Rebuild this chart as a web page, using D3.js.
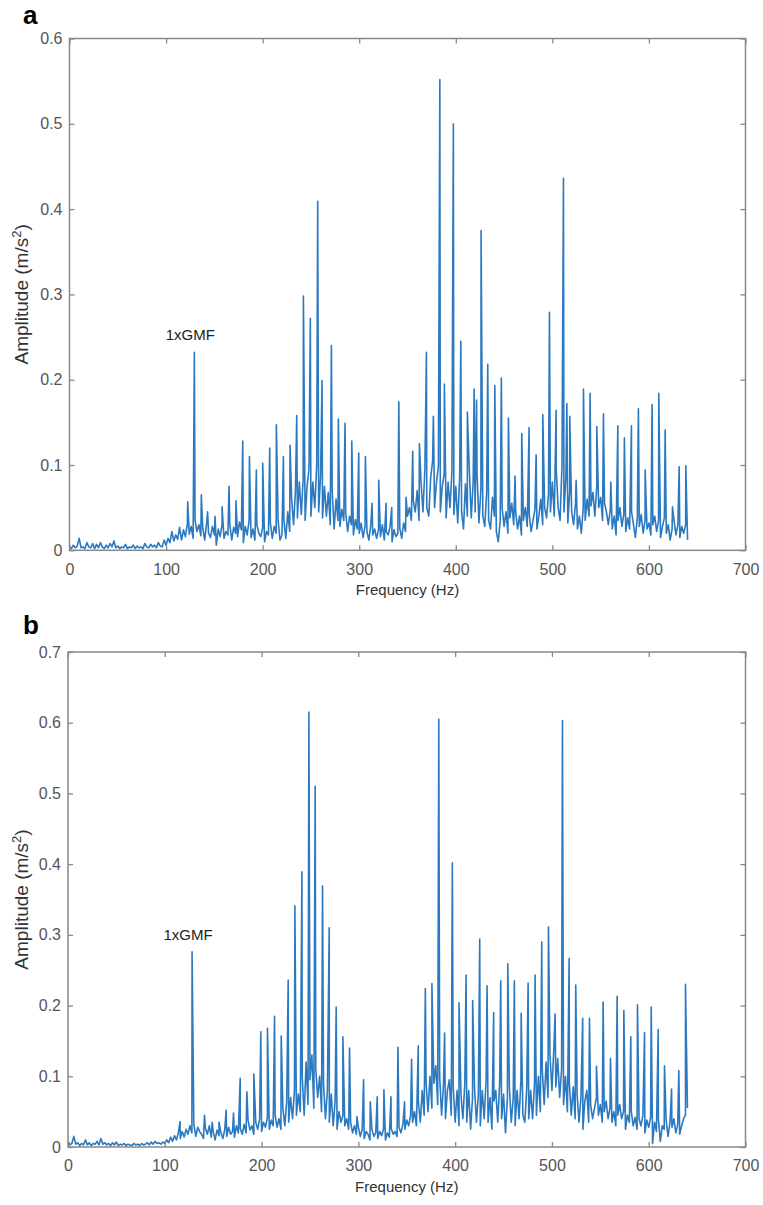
<!DOCTYPE html>
<html>
<head>
<meta charset="utf-8">
<script src="https://cdn.jsdelivr.net/npm/d3@7"></script>
<style>
  body { margin: 0; background: #fff; }
  svg { display: block; font-family: "Liberation Sans", Arial, Helvetica, sans-serif; }
</style>
</head>
<body>
<svg id="chart" width="763" height="1205"></svg>
<script>
// Gear mesh spectra, panels a and b

// Tick labels
const freqTicks = [0, 100, 200, 300, 400, 500, 600, 700];
const ampTicksA = [0, 0.1, 0.2, 0.3, 0.4, 0.5, 0.6];
const ampTicksB = [0, 0.1, 0.2, 0.3, 0.4, 0.5, 0.6, 0.7];

// Noise floor, one value every 2 Hz from 0 to 640 Hz
const floorStep = 2;
const floorA = [
  0.004, 0.002, 0.006, 0.003, 0.005, 0.014, 0.003, 0.004, 0.002, 0.009,
  0.004, 0.003, 0.008, 0.002, 0.007, 0.003, 0.009, 0.004, 0.002, 0.006,
  0.003, 0.008, 0.004, 0.011, 0.003, 0.005, 0.002, 0.004, 0.003, 0.007,
  0.002, 0.004, 0.003, 0.006, 0.002, 0.005, 0.003, 0.004, 0.002, 0.008,
  0.004, 0.003, 0.007, 0.004, 0.006, 0.003, 0.009, 0.005, 0.004, 0.012,
  0.006, 0.014, 0.009, 0.022, 0.011, 0.018, 0.013, 0.027, 0.012, 0.024,
  0.016, 0.030, 0.019, 0.028, 0.014, 0.035, 0.022, 0.030, 0.017, 0.026,
  0.012, 0.032, 0.020, 0.015, 0.028, 0.018, 0.006, 0.025, 0.016, 0.030,
  0.014, 0.022, 0.018, 0.030, 0.012, 0.027, 0.020, 0.016, 0.033, 0.024,
  0.009, 0.028, 0.018, 0.035, 0.015, 0.025, 0.012, 0.030, 0.020, 0.016,
  0.026, 0.010, 0.022, 0.018, 0.032, 0.014, 0.028, 0.020, 0.035, 0.012,
  0.018, 0.035, 0.014, 0.045, 0.022, 0.060, 0.030, 0.070, 0.038, 0.080,
  0.042, 0.085, 0.035, 0.075, 0.095, 0.040, 0.080, 0.050, 0.100, 0.045,
  0.088, 0.038, 0.075, 0.040, 0.068, 0.030, 0.070, 0.025, 0.060, 0.035,
  0.028, 0.048, 0.035, 0.044, 0.022, 0.040, 0.030, 0.018, 0.036, 0.025,
  0.020, 0.032, 0.015, 0.028, 0.022, 0.012, 0.030, 0.018, 0.025, 0.014,
  0.024, 0.016, 0.030, 0.012, 0.022, 0.018, 0.028, 0.010, 0.024, 0.016,
  0.020, 0.026, 0.014, 0.032, 0.022, 0.040, 0.050, 0.035, 0.058, 0.045,
  0.070, 0.035, 0.080, 0.045, 0.095, 0.050, 0.040, 0.085, 0.105, 0.050,
  0.080, 0.098, 0.045, 0.075, 0.090, 0.038, 0.080, 0.050, 0.092, 0.042,
  0.075, 0.032, 0.085, 0.045, 0.025, 0.078, 0.040, 0.095, 0.038, 0.080,
  0.045, 0.090, 0.032, 0.072, 0.040, 0.028, 0.068, 0.035, 0.025, 0.062,
  0.040, 0.022, 0.010, 0.035, 0.050, 0.028, 0.045, 0.020, 0.038, 0.055,
  0.030, 0.045, 0.025, 0.040, 0.018, 0.035, 0.050, 0.028, 0.042, 0.022,
  0.035, 0.048, 0.025, 0.040, 0.060, 0.030, 0.050, 0.038, 0.065, 0.045,
  0.080, 0.040, 0.095, 0.050, 0.035, 0.100, 0.045, 0.085, 0.032, 0.070,
  0.045, 0.030, 0.055, 0.025, 0.040, 0.020, 0.050, 0.035, 0.060, 0.040,
  0.052, 0.068, 0.040, 0.075, 0.050, 0.062, 0.035, 0.055, 0.045, 0.030,
  0.048, 0.025, 0.040, 0.018, 0.035, 0.050, 0.028, 0.042, 0.022, 0.038,
  0.025, 0.045, 0.030, 0.015, 0.038, 0.028, 0.042, 0.020, 0.035, 0.025,
  0.032, 0.018, 0.030, 0.040, 0.022, 0.035, 0.015, 0.028, 0.038, 0.020,
  0.030, 0.012, 0.025, 0.035, 0.018, 0.030, 0.015, 0.028, 0.020, 0.030,
  0.012
];

const floorB = [
  0.008, 0.003, 0.005, 0.015, 0.004, 0.006, 0.002, 0.005, 0.003, 0.010,
  0.003, 0.006, 0.002, 0.005, 0.004, 0.008, 0.003, 0.012, 0.004, 0.006,
  0.003, 0.005, 0.002, 0.006, 0.003, 0.007, 0.002, 0.004, 0.003, 0.005,
  0.002, 0.004, 0.003, 0.002, 0.005, 0.003, 0.004, 0.002, 0.005, 0.003,
  0.004, 0.006, 0.003, 0.007, 0.004, 0.008, 0.005, 0.006, 0.004, 0.007,
  0.005, 0.010, 0.006, 0.014, 0.008, 0.016, 0.010, 0.020, 0.012, 0.022,
  0.014, 0.025, 0.018, 0.030, 0.020, 0.032, 0.015, 0.028, 0.022, 0.018,
  0.012, 0.026, 0.018, 0.030, 0.014, 0.022, 0.010, 0.024, 0.016, 0.020,
  0.012, 0.025, 0.015, 0.028, 0.018, 0.022, 0.014, 0.030, 0.020, 0.026,
  0.018, 0.032, 0.020, 0.038, 0.024, 0.030, 0.018, 0.035, 0.025, 0.040,
  0.022, 0.035, 0.028, 0.042, 0.025, 0.038, 0.030, 0.045, 0.028, 0.040,
  0.025, 0.055, 0.030, 0.065, 0.035, 0.070, 0.040, 0.080, 0.045, 0.075,
  0.050, 0.100, 0.045, 0.120, 0.060, 0.095, 0.130, 0.055, 0.110, 0.070,
  0.100, 0.050, 0.090, 0.040, 0.080, 0.035, 0.075, 0.030, 0.065, 0.025,
  0.050, 0.035, 0.045, 0.030, 0.040, 0.025, 0.035, 0.020, 0.030, 0.018,
  0.028, 0.015, 0.025, 0.012, 0.022, 0.018, 0.010, 0.025, 0.015, 0.020,
  0.012, 0.022, 0.016, 0.025, 0.010, 0.020, 0.014, 0.026, 0.018, 0.022,
  0.015, 0.028, 0.020, 0.032, 0.025, 0.038, 0.030, 0.045, 0.035, 0.050,
  0.030, 0.065, 0.035, 0.080, 0.045, 0.090, 0.050, 0.100, 0.055, 0.090,
  0.115, 0.060, 0.100, 0.045, 0.090, 0.040, 0.080, 0.095, 0.045, 0.085,
  0.035, 0.080, 0.030, 0.075, 0.040, 0.090, 0.035, 0.080, 0.025, 0.070,
  0.085, 0.035, 0.075, 0.030, 0.080, 0.040, 0.095, 0.035, 0.070, 0.025,
  0.065, 0.080, 0.035, 0.090, 0.040, 0.075, 0.020, 0.070, 0.085, 0.035,
  0.070, 0.030, 0.080, 0.040, 0.095, 0.045, 0.035, 0.085, 0.040, 0.080,
  0.040, 0.090, 0.045, 0.100, 0.050, 0.110, 0.060, 0.120, 0.070, 0.130,
  0.080, 0.140, 0.085, 0.125, 0.070, 0.110, 0.060, 0.100, 0.050, 0.090,
  0.045, 0.085, 0.040, 0.075, 0.035, 0.070, 0.025, 0.065, 0.080, 0.035,
  0.060, 0.040, 0.055, 0.070, 0.045, 0.060, 0.035, 0.050, 0.065, 0.040,
  0.055, 0.035, 0.050, 0.030, 0.045, 0.060, 0.040, 0.050, 0.025, 0.045,
  0.035, 0.050, 0.030, 0.042, 0.025, 0.040, 0.030, 0.045, 0.020, 0.038,
  0.028, 0.042, 0.005, 0.035, 0.022, 0.040, 0.008, 0.030, 0.025, 0.038,
  0.015, 0.035, 0.028, 0.040, 0.020, 0.032, 0.018, 0.030, 0.040, 0.045,
  0.055
];

// Sharp spectral lines (Hz, m/s^2)
const peakFreqA = [
  122.4, 129.3, 136.5, 143.0, 150.7, 158.0, 165.2, 172.4, 179.4, 186.3,
  193.5, 200.1, 207.3, 214.2, 221.5, 228.4, 235.3, 242.2, 249.4, 257.0,
  261.5, 271.2, 278.4, 285.3, 292.3, 299.5, 306.4, 313.3, 320.2, 327.8,
  333.7, 341.0, 348.5, 355.4, 362.3, 369.6, 376.8, 383.5, 388.2, 397.5,
  405.2, 412.0, 419.0, 421.5, 426.2, 433.1, 440.4, 447.2, 454.5, 461.4,
  468.3, 475.9, 483.2, 490.1, 497.0, 503.9, 511.5, 515.0, 518.0, 524.6,
  532.2, 539.1, 546.0, 552.9, 560.5, 567.8, 574.6, 581.9, 589.1, 596.1,
  603.3, 610.2, 616.8, 624.4, 631.3, 638.2
];
const peakAmpA = [
  0.057, 0.232, 0.065, 0.045, 0.040, 0.051, 0.075, 0.058, 0.128, 0.110,
  0.094, 0.102, 0.120, 0.147, 0.110, 0.123, 0.158, 0.298, 0.272, 0.409,
  0.199, 0.240, 0.154, 0.149, 0.128, 0.114, 0.110, 0.055, 0.082, 0.055,
  0.050, 0.174, 0.062, 0.116, 0.125, 0.232, 0.157, 0.552, 0.195, 0.500,
  0.245, 0.162, 0.189, 0.176, 0.375, 0.218, 0.193, 0.202, 0.155, 0.087,
  0.137, 0.144, 0.112, 0.159, 0.279, 0.164, 0.436, 0.172, 0.157, 0.082,
  0.189, 0.184, 0.145, 0.160, 0.080, 0.146, 0.132, 0.146, 0.166, 0.094,
  0.171, 0.184, 0.141, 0.051, 0.098, 0.099
];

const peakFreqB = [
  115.8, 128.2, 141.0, 149.0, 156.0, 163.4, 171.0, 177.9, 184.8, 192.0,
  199.2, 206.1, 213.4, 220.3, 227.5, 234.4, 241.7, 248.9, 255.4, 263.0,
  269.9, 277.1, 284.0, 290.9, 298.5, 305.4, 312.3, 319.5, 326.4, 333.7,
  340.9, 347.8, 355.0, 361.9, 369.2, 376.0, 383.1, 389.1, 397.1, 404.0,
  411.3, 418.1, 425.4, 433.0, 439.8, 447.1, 454.4, 461.2, 468.2, 475.4,
  482.6, 489.5, 496.4, 503.3, 510.9, 517.8, 524.6, 531.8, 538.8, 546.0,
  552.9, 560.5, 567.4, 574.3, 581.5, 588.4, 595.7, 602.6, 609.8, 616.3,
  623.6, 631.1, 638.0
];
const peakAmpB = [
  0.036, 0.276, 0.045, 0.035, 0.035, 0.052, 0.048, 0.097, 0.078, 0.103,
  0.163, 0.168, 0.185, 0.157, 0.236, 0.341, 0.389, 0.615, 0.510, 0.369,
  0.310, 0.198, 0.156, 0.140, 0.043, 0.095, 0.064, 0.071, 0.081, 0.071,
  0.141, 0.064, 0.124, 0.143, 0.224, 0.231, 0.605, 0.161, 0.402, 0.204,
  0.243, 0.207, 0.294, 0.228, 0.190, 0.235, 0.259, 0.235, 0.189, 0.232,
  0.243, 0.290, 0.311, 0.188, 0.603, 0.267, 0.229, 0.182, 0.182, 0.114,
  0.205, 0.125, 0.213, 0.193, 0.156, 0.201, 0.162, 0.198, 0.166, 0.115,
  0.082, 0.108, 0.230
];

// 1xGMF annotation
const gmfLabel = "1xGMF";
const gmfFreqA = 129.3, gmfAmpA = 0.232;
const gmfFreqB = 128.2, gmfAmpB = 0.276;

const lineColor = "#2b79c0";
const svg = d3.select("#chart");

// Merge the floor samples with the spectral lines, ordered by frequency
function buildSpectrum(floor, peakFreq, peakAmp) {
  var pts = floor.map((a, i) => ({ f: i * floorStep, a: a }));
  peakFreq.forEach((f, i) => pts.push({ f: f, a: peakAmp[i] }));
  pts.sort((p, q) => p.f - q.f);
  return pts;
}

function drawPanel(opt) {
  const x = d3.scaleLinear().domain([0, 700]).range([opt.left, opt.right]);
  const y = d3.scaleLinear().domain([0, opt.yMax]).range([opt.bottom, opt.top]);

  const g = svg.append("g");

  // spectrum line
  const data = buildSpectrum(opt.floor, opt.peakFreq, opt.peakAmp);
  const line = d3.line()
    .x(d => x(d.f))
    .y(d => y(d.a));

  g.append("path")
    .datum(data)
    .attr("d", line)
    .attr("fill", "none")
    .attr("stroke", lineColor)
    .attr("stroke-width", 1.6)
    .attr("stroke-linejoin", "round");

  // axes, ticks pointing inward on all four sides (box style)
  const tickColor = "#555";
  function styleAxis(sel) {
    sel.select(".domain").remove();
    sel.selectAll(".tick line").attr("stroke", "#888").attr("stroke-width", 1.3);
    sel.selectAll(".tick text")
      .attr("fill", tickColor)
      .style("font-size", "16px")
      .style("font-family", "'Liberation Sans', Arial, sans-serif");
  }

  g.append("g")
    .attr("transform", `translate(0,${opt.bottom})`)
    .call(d3.axisBottom(x).tickValues(freqTicks).tickSize(-5).tickPadding(13).tickFormat(d3.format("d")))
    .call(styleAxis);

  g.append("g")
    .attr("transform", `translate(0,${opt.top})`)
    .call(d3.axisTop(x).tickValues(freqTicks).tickSize(-5).tickFormat(""))
    .call(styleAxis);

  g.append("g")
    .attr("transform", `translate(${opt.left},0)`)
    .call(d3.axisLeft(y).tickValues(opt.yTicks).tickSize(-5).tickPadding(7).tickFormat(d => d === 0 ? "0" : d3.format(".1f")(d)))
    .call(styleAxis);

  g.append("g")
    .attr("transform", `translate(${opt.right},0)`)
    .call(d3.axisRight(y).tickValues(opt.yTicks).tickSize(-5).tickFormat(""))
    .call(styleAxis);

  // box
  g.append("rect")
    .attr("x", opt.left)
    .attr("y", opt.top)
    .attr("width", opt.right - opt.left)
    .attr("height", opt.bottom - opt.top)
    .attr("fill", "none")
    .attr("stroke", "#888")
    .attr("stroke-width", 1.5);

  // x label
  g.append("text")
    .attr("x", (opt.left + opt.right) / 2)
    .attr("y", opt.bottom + 45)
    .attr("text-anchor", "middle")
    .attr("fill", "#333")
    .style("font-size", "15px")
    .text("Frequency (Hz)");

  // y label (rotated)
  const yl = g.append("text")
    .attr("transform", `translate(28,${(opt.top + opt.bottom) / 2}) rotate(-90)`)
    .attr("text-anchor", "middle")
    .attr("fill", "#333")
    .style("font-size", "19px");
  yl.append("tspan").text("Amplitude (m/s");
  yl.append("tspan").attr("baseline-shift", "super").style("font-size", "13px").text("2");
  yl.append("tspan").text(")");

  // 1xGMF annotation just above its peak
  g.append("text")
    .attr("x", x(opt.gmfFreq) - 4)
    .attr("y", y(opt.gmfAmp) - 12)
    .attr("text-anchor", "middle")
    .attr("fill", "#222")
    .style("font-size", "15px")
    .text(gmfLabel);

  // panel letter
  g.append("text")
    .attr("x", 23)
    .attr("y", opt.letterY)
    .attr("fill", "#000")
    .style("font-size", "26px")
    .style("font-weight", "bold")
    .text(opt.letter);
}

drawPanel({
  letter: "a", letterY: 24,
  left: 69.5, right: 745.5, top: 38.5, bottom: 550.3,
  yMax: 0.6, yTicks: ampTicksA,
  floor: floorA, peakFreq: peakFreqA, peakAmp: peakAmpA,
  gmfFreq: gmfFreqA, gmfAmp: gmfAmpA
});

drawPanel({
  letter: "b", letterY: 634,
  left: 68, right: 745.5, top: 652, bottom: 1147,
  yMax: 0.7, yTicks: ampTicksB,
  floor: floorB, peakFreq: peakFreqB, peakAmp: peakAmpB,
  gmfFreq: gmfFreqB, gmfAmp: gmfAmpB
});
</script>
</body>
</html>
